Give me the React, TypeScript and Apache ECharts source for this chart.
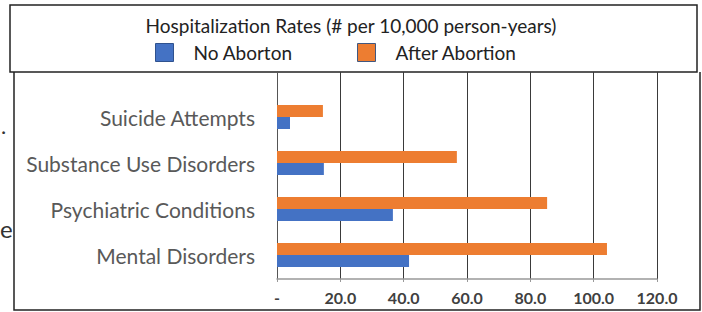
import React, { useEffect, useRef } from "react";
import * as echarts from "echarts";

const categories = ["Mental Disorders", "Psychiatric Conditions", "Substance Use Disorders", "Suicide Attempts"];
const noAbortion = [41.7, 36.6, 14.8, 4.1];
const afterAbortion = [104.2, 85.3, 56.8, 14.5];
const seriesNames = ["No Aborton", "After Abortion"];
const titleText = "Hospitalization Rates (# per 10,000 person-years)";

const FONT = "Lato";

export default function App() {
  const ref = useRef<HTMLDivElement>(null);
  useEffect(() => {
    document.body.style.margin = "0";
    const chart = echarts.init(ref.current!, null, { renderer: "svg" });
    chart.setOption({
      animation: false,
      backgroundColor: "#ffffff",
      title: {
        text: titleText,
        left: "center",
        top: 16,
        padding: 0,
        textStyle: { fontFamily: FONT, fontSize: 19, fontWeight: "normal", color: "#222" },
      },
      legend: [
        {
          data: [{ name: seriesNames[0], itemStyle: { color: "#4472C4", borderColor: "#2F528F", borderWidth: 1 } }],
          left: 155,
          top: 43,
          padding: 0,
          icon: "rect",
          itemWidth: 18,
          itemHeight: 18,
          selectedMode: false,
          textStyle: { fontFamily: FONT, fontSize: 19, color: "#222", padding: [0, 0, 0, 15] },
        },
        {
          data: [{ name: seriesNames[1], itemStyle: { color: "#ED7D31", borderColor: "#41577F", borderWidth: 1 } }],
          left: 357,
          top: 43,
          padding: 0,
          icon: "rect",
          itemWidth: 18,
          itemHeight: 18,
          selectedMode: false,
          textStyle: { fontFamily: FONT, fontSize: 19, color: "#222", padding: [0, 0, 0, 15] },
        },
      ],
      grid: [
        { left: 277, right: 45, top: 72, bottom: 33 },
        { left: 277, right: 45, top: 94, bottom: 34 },
      ],
      xAxis: [
        {
          type: "value",
          gridIndex: 0,
          min: 0,
          max: 120,
          interval: 20,
          axisLine: { show: true, lineStyle: { color: "#999", width: 1.5 } },
          axisTick: { show: true, length: 3, lineStyle: { color: "#999" } },
          splitLine: { show: true, lineStyle: { color: "#3a3a3a", width: 1 } },
          axisLabel: {
            margin: 10,
            fontFamily: FONT,
            fontSize: 16,
            fontWeight: "bold",
            color: "#404040",
            formatter: (v: number) => (v === 0 ? "-" : v.toFixed(1)),
          },
        },
        {
          type: "value",
          gridIndex: 1,
          min: 0,
          max: 120,
          interval: 20,
          show: false,
        },
      ],
      yAxis: [
        {
          type: "category",
          gridIndex: 0,
          data: [""],
          axisLine: { show: true, lineStyle: { color: "#555", width: 1 } },
          axisTick: { show: false },
          axisLabel: { show: false },
        },
        {
          type: "category",
          gridIndex: 1,
          data: categories,
          axisLine: { show: false },
          axisTick: { show: false },
          axisLabel: { margin: 22, fontFamily: FONT, fontSize: 21, color: "#595959" },
        },
      ],
      series: [
        {
          name: seriesNames[1],
          type: "bar",
          xAxisIndex: 1,
          yAxisIndex: 1,
          data: afterAbortion,
          barWidth: 12,
          barGap: "0%",
          itemStyle: { color: "#ED7D31" },
        },
        {
          name: seriesNames[0],
          type: "bar",
          xAxisIndex: 1,
          yAxisIndex: 1,
          data: noAbortion,
          barWidth: 12,
          barGap: "0%",
          itemStyle: { color: "#4472C4" },
        },
      ],
      graphic: [
        {
          type: "rect",
          shape: { x: 10, y: 5, width: 687, height: 67 },
          style: { fill: "none", stroke: "#222", lineWidth: 1.5 },
          silent: true,
        },
        {
          type: "polyline",
          shape: { points: [[14, 72], [14, 310], [700, 310], [700, 72]] },
          style: { fill: "none", stroke: "#222", lineWidth: 1.5 },
          silent: true,
        },
        {
          type: "text",
          x: 0,
          y: 216,
          style: { text: "e", font: "24px Lato", fill: "#333" },
          silent: true,
        },
        {
          type: "text",
          x: 1,
          y: 114,
          style: { text: ".", font: "22px Lato", fill: "#333" },
          silent: true,
        },
      ],
    });
    return () => chart.dispose();
  }, []);
  return <div ref={ref} style={{ position: "absolute", left: 0, top: 0, width: 702, height: 312 }} />;
}
